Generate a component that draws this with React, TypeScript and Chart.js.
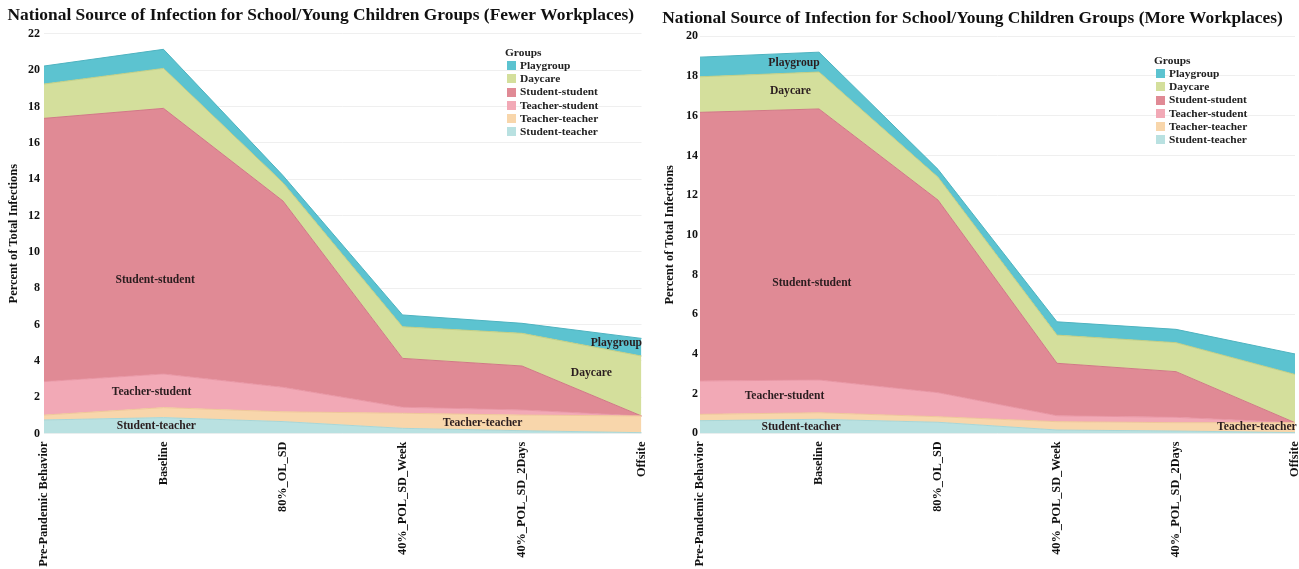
import React, { useEffect, useRef } from "react";
import { Chart, registerables } from "chart.js";

Chart.register(...registerables);

// ---------- data ----------
const categories = [
  "Pre-Pandemic Behavior",
  "Baseline",
  "80%_OL_SD",
  "40%_POL_SD_Week",
  "40%_POL_SD_2Days",
  "Offsite",
];

// stacking order: bottom -> top
const groupNames = [
  "Student-teacher",
  "Teacher-teacher",
  "Teacher-student",
  "Student-student",
  "Daycare",
  "Playgroup",
];

// Fewer Workplaces
const fewerStudentTeacher = [0.75, 0.88, 0.66, 0.29, 0.16, 0.05];
const fewerTeacherTeacher = [0.27, 0.55, 0.54, 0.83, 0.86, 0.92];
const fewerTeacherStudent = [1.84, 1.85, 1.35, 0.33, 0.28, 0.0];
const fewerStudentStudent = [14.49, 14.62, 10.25, 2.69, 2.42, 0.0];
const fewerDaycare = [1.89, 2.2, 1.0, 1.74, 1.8, 3.3];
const fewerPlaygroup = [0.99, 1.05, 0.4, 0.65, 0.55, 0.97];

// More Workplaces
const moreStudentTeacher = [0.64, 0.71, 0.56, 0.17, 0.12, 0.04];
const moreTeacherTeacher = [0.32, 0.33, 0.28, 0.42, 0.42, 0.5];
const moreTeacherStudent = [1.68, 1.65, 1.21, 0.3, 0.27, 0.0];
const moreStudentStudent = [13.53, 13.65, 9.7, 2.64, 2.3, 0.0];
const moreDaycare = [1.79, 1.86, 1.15, 1.42, 1.46, 2.43];
const morePlaygroup = [0.99, 1.0, 0.4, 0.67, 0.67, 1.03];

const fewerSeries = [
  fewerStudentTeacher,
  fewerTeacherTeacher,
  fewerTeacherStudent,
  fewerStudentStudent,
  fewerDaycare,
  fewerPlaygroup,
];
const moreSeries = [
  moreStudentTeacher,
  moreTeacherTeacher,
  moreTeacherStudent,
  moreStudentStudent,
  moreDaycare,
  morePlaygroup,
];

// in-area labels anchored in data space (category index, value)
const fewerAreaLabelText = ["Student-student", "Teacher-student", "Student-teacher", "Teacher-teacher", "Daycare", "Playgroup"];
const fewerAreaLabelIndex = [0.93, 0.9, 0.94, 3.67, 4.58, 4.79];
const fewerAreaLabelValue = [8.45, 2.3, 0.4, 0.6, 3.33, 5.0];

const moreAreaLabelText = ["Playgroup", "Daycare", "Student-student", "Teacher-student", "Student-teacher", "Teacher-teacher"];
const moreAreaLabelIndex = [0.79, 0.76, 0.94, 0.71, 0.85, 4.68];
const moreAreaLabelValue = [18.63, 17.26, 7.59, 1.88, 0.34, 0.34];

const fewerTitle = "National Source of Infection for School/Young Children Groups (Fewer Workplaces)";
const moreTitle = "National Source of Infection for School/Young Children Groups (More Workplaces)";
const yAxisTitle = "Percent of Total Infections";
const legendTitle = "Groups";

// ---------- styles ----------
const FONT = "'Liberation Serif', 'Times New Roman', serif";
const groupColors = ["#b9e1e1", "#f8d6ab", "#f2a9b6", "#e08a95", "#d4df9c", "#5cc3d0"];
const groupBorders = ["#a9d6d6", "#efc79a", "#e896a4", "#d07a86", "#c2cf86", "#4fb3c0"];

const areaLabelPlugin = {
  id: "areaLabels",
  afterDatasetsDraw(chart: any, _args: any, opts: any) {
    const { ctx } = chart;
    const x = chart.scales.x;
    const y = chart.scales.y;
    ctx.save();
    ctx.font = `bold 11.6px ${FONT}`;
    ctx.fillStyle = "#2a1d1f";
    ctx.textAlign = "center";
    ctx.textBaseline = "middle";
    const texts: string[] = opts.texts || [];
    texts.forEach((t: string, i: number) => {
      ctx.fillText(t, x.getPixelForValue(opts.indexes[i]), y.getPixelForValue(opts.values[i]));
    });
    ctx.restore();
  },
};

interface PanelProps {
  title: string;
  series: number[][];
  yMax: number;
  width: number;
  height: number;
  yAxisWidth: number;
  xAxisHeight: number;
  padRight: number;
  titlePadTop: number;
  titlePadBottom: number;
  yTitlePad: number;
  yTickPad: number;
  labelTexts: string[];
  labelIndexes: number[];
  labelValues: number[];
}

function AreaPanel(p: PanelProps) {
  const ref = useRef<HTMLCanvasElement | null>(null);
  useEffect(() => {
    if (!ref.current) return;
    const datasets = p.series.map((vals, i) => ({
      label: groupNames[i],
      data: vals,
      backgroundColor: groupColors[i],
      borderColor: groupBorders[i],
      borderWidth: 1,
      pointRadius: 0,
      pointHoverRadius: 0,
      tension: 0,
      fill: i === 0 ? "origin" : "-1",
    }));
    const chart = new Chart(ref.current, {
      type: "line",
      data: { labels: categories, datasets },
      plugins: [areaLabelPlugin],
      options: {
        animation: false,
        responsive: false,
        maintainAspectRatio: false,
        layout: { padding: { left: 0, right: p.padRight, top: 0, bottom: 0 } },
        plugins: {
          legend: { display: false },
          tooltip: { enabled: false },
          title: {
            display: true,
            text: p.title,
            color: "#111",
            font: { family: FONT, size: 17.4, weight: "bold" },
            padding: { top: p.titlePadTop, bottom: p.titlePadBottom },
          },
          areaLabels: { texts: p.labelTexts, indexes: p.labelIndexes, values: p.labelValues },
        } as any,
        scales: {
          x: {
            offset: false,
            grid: { display: false, drawTicks: false },
            border: { display: false },
            ticks: {
              autoSkip: false,
              maxRotation: 90,
              minRotation: 90,
              padding: 8,
              color: "#111",
              font: { family: FONT, size: 12.3, weight: "bold" },
            },
            afterFit(s: any) {
              s.height = p.xAxisHeight;
              s.paddingLeft = 0;
              s.paddingRight = 0;
            },
          },
          y: {
            stacked: true,
            min: 0,
            max: p.yMax,
            grid: { color: "#efefef", drawTicks: false },
            border: { display: false },
            ticks: {
              stepSize: 2,
              padding: p.yTickPad,
              color: "#111",
              font: { family: FONT, size: 12, weight: "bold" },
            },
            title: {
              display: true,
              text: yAxisTitle,
              color: "#111",
              font: { family: FONT, size: 12.4, weight: "bold" },
              padding: { top: p.yTitlePad, bottom: 0 },
            },
            afterFit(s: any) {
              s.width = p.yAxisWidth;
              s.paddingTop = 0;
              s.paddingBottom = 0;
            },
          },
        },
      } as any,
    });
    return () => chart.destroy();
  }, []);
  return (
    <canvas
      ref={ref}
      width={p.width}
      height={p.height}
      style={{ width: p.width, height: p.height, display: "block" }}
    />
  );
}

function Legend({ left, top }: { left: number; top: number }) {
  const order = [5, 4, 3, 2, 1, 0];
  return (
    <div
      style={{
        position: "absolute",
        left,
        top,
        fontFamily: FONT,
        fontWeight: "bold",
        fontSize: 11.4,
        color: "#222",
        lineHeight: "13.3px",
      }}
    >
      <div style={{ height: 13.3, whiteSpace: "nowrap" }}>{legendTitle}</div>
      {order.map((i) => (
        <div key={i} style={{ height: 13.3, display: "flex", alignItems: "center", whiteSpace: "nowrap" }}>
          <span
            style={{
              display: "inline-block",
              width: 9,
              height: 9,
              marginLeft: 2,
              marginRight: 4,
              background: groupColors[i],
            }}
          />
          <span>{groupNames[i]}</span>
        </div>
      ))}
    </div>
  );
}

export default function App() {
  return (
    <div
      style={{
        position: "fixed",
        left: 0,
        top: 0,
        width: 1299,
        height: 569,
        background: "#fff",
        overflow: "hidden",
      }}
    >
      <div style={{ position: "absolute", left: 0, top: 0 }}>
        <AreaPanel
          title={fewerTitle}
          series={fewerSeries}
          yMax={22}
          width={650}
          height={569}
          yAxisWidth={44}
          xAxisHeight={135.4}
          padRight={8.5}
          titlePadTop={5.5}
          titlePadBottom={7.5}
          yTitlePad={6}
          yTickPad={4}
          labelTexts={fewerAreaLabelText}
          labelIndexes={fewerAreaLabelIndex}
          labelValues={fewerAreaLabelValue}
        />
      </div>
      <div style={{ position: "absolute", left: 650, top: 0 }}>
        <AreaPanel
          title={moreTitle}
          series={moreSeries}
          yMax={20}
          width={649}
          height={569}
          yAxisWidth={50}
          xAxisHeight={135.6}
          padRight={4}
          titlePadTop={8}
          titlePadBottom={7.4}
          yTitlePad={12.5}
          yTickPad={2}
          labelTexts={moreAreaLabelText}
          labelIndexes={moreAreaLabelIndex}
          labelValues={moreAreaLabelValue}
        />
      </div>
      <Legend left={505} top={45.5} />
      <Legend left={1154} top={53.5} />
    </div>
  );
}
